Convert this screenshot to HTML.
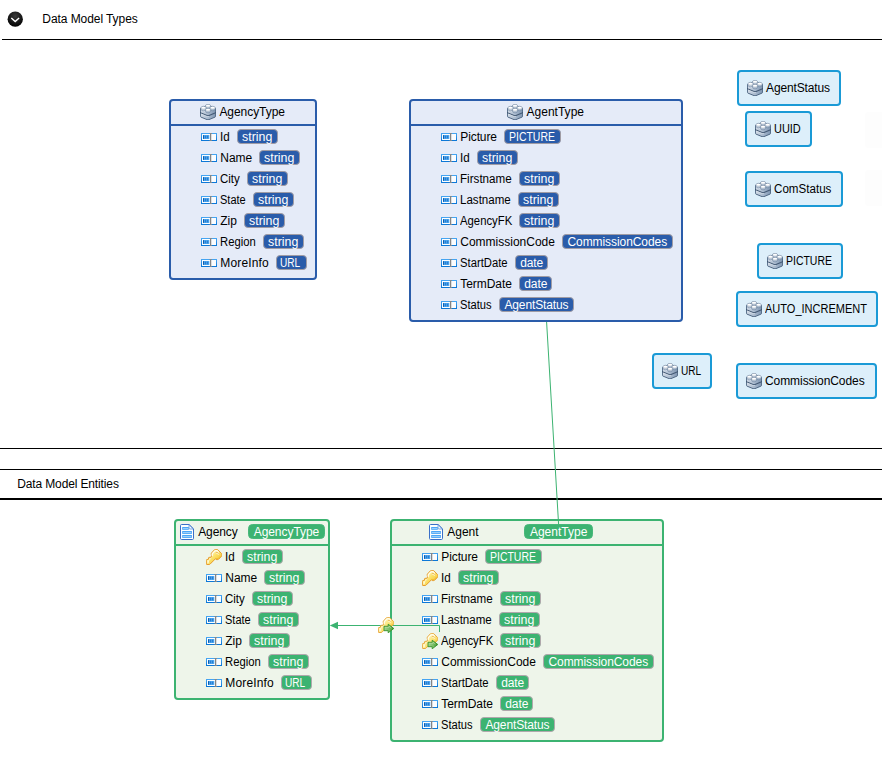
<!DOCTYPE html>
<html><head><meta charset="utf-8"><title>Data Model</title>
<style>
html,body{margin:0;padding:0;background:#fff;}
body{width:882px;height:766px;position:relative;overflow:hidden;font-family:"Liberation Sans",sans-serif;font-size:12px;color:#000;}
.t{position:absolute;white-space:nowrap;line-height:16px;height:16px;}
.hl{position:absolute;background:#000;}
.box{position:absolute;border:2px solid;border-radius:4px;}
.box.ty{background:#e5ebf8;border-color:#2a5caa;}
.box.st{background:#ddeffa;border-color:#1a9ad6;}
.box.en{background:#eef5ea;border-color:#3cb371;}
.sep{position:absolute;height:2px;}
.sep.ty{background:#2a5caa;}
.sep.en{background:#3cb371;}
.i{position:absolute;overflow:visible;}
.p{position:absolute;box-sizing:border-box;height:15px;border:1px solid;border-radius:4px;color:#fff;white-space:nowrap;text-align:center;line-height:16px;overflow:visible;}
.p>span{position:absolute;left:4px;top:-1px;line-height:16px;}
.pb{background:#2a5caa;border-color:#a09ca4;}
.ph{background:#3cb371;border-color:#48b87b;border-radius:4.5px;height:15.6px}
.pg{background:#3cb371;border-color:#b0a8ac;}
</style></head><body>
<svg width="0" height="0" style="position:absolute">
<defs>
<linearGradient id="gl" x1="0" y1="0" x2="0" y2="1"><stop offset="0" stop-color="#c3cedb"/><stop offset="1" stop-color="#97a8bb"/></linearGradient>
<linearGradient id="gr" x1="0" y1="0" x2="0" y2="1"><stop offset="0" stop-color="#a9b8c9"/><stop offset="1" stop-color="#7b8ea5"/></linearGradient>
<linearGradient id="gd" x1="0" y1="0" x2="1" y2="1"><stop offset="0" stop-color="#e3f0ff"/><stop offset="1" stop-color="#7db6f5"/></linearGradient>
<linearGradient id="gk" x1="0" y1="0" x2="1" y2="1"><stop offset="0.15" stop-color="#fffbdc"/><stop offset="0.5" stop-color="#fbe066"/><stop offset="1" stop-color="#f2bc24"/></linearGradient>
<linearGradient id="gk2" x1="0" y1="0" x2="1" y2="1"><stop offset="0.1" stop-color="#fffbdc"/><stop offset="0.55" stop-color="#fbe476"/><stop offset="1" stop-color="#f4c434"/></linearGradient>
<linearGradient id="ga" x1="0" y1="0" x2="1" y2="0"><stop offset="0" stop-color="#a3d395"/><stop offset="0.55" stop-color="#79bd64"/><stop offset="1" stop-color="#2f8f22"/></linearGradient>
<linearGradient id="gf" x1="0" y1="0" x2="0" y2="1"><stop offset="0" stop-color="#44a4f2"/><stop offset="1" stop-color="#0c78d8"/></linearGradient>
<linearGradient id="gb" x1="0" y1="0" x2="1" y2="0"><stop offset="0" stop-color="#d3dce7"/><stop offset="0.5" stop-color="#a9bace"/><stop offset="1" stop-color="#7f96b2"/></linearGradient>
<radialGradient id="gc" cx="0.5" cy="0.3" r="0.7"><stop offset="0" stop-color="#3a3a3a"/><stop offset="1" stop-color="#000"/></radialGradient>
<symbol id="brick" viewBox="0 0 16 16">
 <path d="M0.4 4.6 L8 1 L15.6 4.6 V12.3 Q15.6 12.8 15 13.1 L9 15.6 Q8 16 7 15.6 L1 13.1 Q0.4 12.8 0.4 12.3 Z" fill="url(#gb)" stroke="#4f6783" stroke-width="1" stroke-linejoin="round"/>
 <path d="M0.4 8.1 Q0.4 8.7 1 9 L7 11.5 Q8 11.9 9 11.5 L15 9 Q15.6 8.7 15.6 8.1" fill="none" stroke="#445a75" stroke-width="1.1"/>
 <path d="M1 9.9 L7 12.4 Q8 12.8 9 12.4" fill="none" stroke="#e8eef5" stroke-width="0.7" opacity="0.85"/>
 <path d="M1 5.9 L5.5 7.8" fill="none" stroke="#e8eef5" stroke-width="0.7" opacity="0.7"/>
 <path d="M5.550000000000001 1.7 v1.7 a2.5 1.4 0 0 0 5 0 v-1.7 z" fill="#b7c6d6" stroke="#6a819c" stroke-width="0.5"/><ellipse cx="8.05" cy="1.7" rx="2.5" ry="1.4" fill="#ffffff" stroke="#5f7894" stroke-width="0.55"/><path d="M5.8500000000000005 2.1 a2.3 1.2 0 0 0 4.4 0" fill="none" stroke="#ffffff" stroke-width="0.7"/>
 <path d="M1.0 3.7 v1.7 a2.5 1.4 0 0 0 5 0 v-1.7 z" fill="#c3cfdc" stroke="#6a819c" stroke-width="0.5"/><ellipse cx="3.5" cy="3.7" rx="2.5" ry="1.4" fill="#ffffff" stroke="#5f7894" stroke-width="0.55"/><path d="M1.2999999999999998 4.1000000000000005 a2.3 1.2 0 0 0 4.4 0" fill="none" stroke="#ffffff" stroke-width="0.7"/>
 <path d="M10.1 3.7 v1.7 a2.5 1.4 0 0 0 5 0 v-1.7 z" fill="#9fb3c9" stroke="#6a819c" stroke-width="0.5"/><ellipse cx="12.6" cy="3.7" rx="2.5" ry="1.4" fill="#ffffff" stroke="#5f7894" stroke-width="0.55"/><path d="M10.399999999999999 4.1000000000000005 a2.3 1.2 0 0 0 4.4 0" fill="none" stroke="#ffffff" stroke-width="0.7"/>
 <path d="M5.550000000000001 5.7 v1.7 a2.5 1.4 0 0 0 5 0 v-1.7 z" fill="#b0c0d2" stroke="#6a819c" stroke-width="0.5"/><ellipse cx="8.05" cy="5.7" rx="2.5" ry="1.4" fill="#ffffff" stroke="#5f7894" stroke-width="0.55"/><path d="M5.8500000000000005 6.1000000000000005 a2.3 1.2 0 0 0 4.4 0" fill="none" stroke="#ffffff" stroke-width="0.7"/>
</symbol>
<symbol id="fld" viewBox="0 0 16 8">
 <rect x="0.5" y="0.5" width="15" height="7" fill="#fbfdff" stroke="url(#gf)" stroke-width="1"/>
 <rect x="2" y="2" width="6.3" height="4" fill="#52acf3"/>
 <rect x="2.1" y="2.2" width="1" height="3.6" fill="#0b55a6"/><rect x="4.3" y="2.6" width="0.9" height="2.8" fill="#1a6cc0"/><rect x="6.3" y="2.6" width="0.9" height="2.8" fill="#1a6cc0"/>
 <rect x="9.2" y="0" width="1" height="8" fill="#666"/>
 <rect x="8.5" y="0" width="2.4" height="0.9" fill="#8a8a8a"/><rect x="8.5" y="7.1" width="2.4" height="0.9" fill="#8a8a8a"/>
</symbol>
<symbol id="key" viewBox="0 0 16 16">
 <path d="M5.3 4.2 L8.5 0.7 Q8.8 0.4 9.3 0.4 L11 0.3 Q11.4 0.3 11.7 0.6 L15.5 4.5 Q15.8 4.8 15.8 5.2 L15.8 6.6 Q15.8 7 15.5 7.3 L12.5 10.3 Q12.2 10.6 11.8 10.6 L10.2 10.5 L9.4 9.8 L4 15.2 Q3.8 15.5 3.4 15.5 L1 15.5 Q0.4 15.5 0.4 14.9 L0.3 11.2 Q0.3 10.7 0.8 10.6 L2.5 10.2 L2.5 8.9 Q2.5 8.5 2.9 8.4 L5 8.2 L5.6 7.1 Q5.1 5.6 5.3 4.2 Z" fill="url(#gk)" stroke="#e69c2e" stroke-width="1" stroke-linejoin="round"/>
 <path d="M6.3 5 L6.2 6.6 M6.4 4.7 L9 1.8 L11 1.6 L12.6 3.2" fill="none" stroke="#fffef2" stroke-width="1.2" stroke-linecap="round" stroke-linejoin="round" opacity="0.95"/>
 <path d="M1.3 11.5 L1.3 14.4 L2.6 14.4 L3.2 11.6 L5.4 9.2 L3.4 9.4 L3.3 11 Z" fill="#fffbe0" opacity="0.85"/>
 <path d="M10.4 3.4 L12.3 4.3" stroke="#e59f3c" stroke-width="0.8" stroke-linecap="round"/>
 <path d="M10.6 4.3 L12.6 5.2" stroke="#fffdf0" stroke-width="0.8" stroke-linecap="round"/>
 <path d="M9.6 9.4 L12 9.6 L14.8 6.8" fill="none" stroke="#f0b21c" stroke-width="0.9" opacity="0.7"/>
</symbol>
<symbol id="fkey" viewBox="0 0 16 16">
 <path d="M5.3 4.2 L8.5 0.7 Q8.8 0.4 9.3 0.4 L11 0.3 Q11.4 0.3 11.7 0.6 L15.5 4.5 Q15.8 4.8 15.8 5.2 L15.8 6.6 Q15.8 7 15.5 7.3 L12.5 10.3 Q12.2 10.6 11.8 10.6 L10.2 10.5 L9.4 9.8 L4 15.2 Q3.8 15.5 3.4 15.5 L1 15.5 Q0.4 15.5 0.4 14.9 L0.3 11.2 Q0.3 10.7 0.8 10.6 L2.5 10.2 L2.5 8.9 Q2.5 8.5 2.9 8.4 L5 8.2 L5.6 7.1 Q5.1 5.6 5.3 4.2 Z" fill="url(#gk2)" stroke="#e8a840" stroke-width="1" stroke-linejoin="round"/>
 <path d="M6.3 5 L6.2 6.6 M6.4 4.7 L9 1.8 L11 1.6 L12.6 3.2" fill="none" stroke="#fffef2" stroke-width="1.2" stroke-linecap="round" stroke-linejoin="round" opacity="0.95"/>
 <path d="M1.3 11.5 L1.3 14.4 L2.6 14.4 L3.2 11.6 L5.4 9.2 L3.4 9.4 L3.3 11 Z" fill="#fffbe0" opacity="0.85"/>
 <path d="M10.4 3.4 L12.3 4.3" stroke="#e59f3c" stroke-width="0.8" stroke-linecap="round"/>
 <path d="M10.6 4.3 L12.6 5.2" stroke="#fffdf0" stroke-width="0.8" stroke-linecap="round"/>
 <path d="M9.6 9.4 L12 9.6 L14.8 6.8" fill="none" stroke="#f0b21c" stroke-width="0.9" opacity="0.7"/>

 <path d="M6 9.3 H10.2 V7.2 L15.8 11.5 L10.2 15.8 V13.7 H6 Z" fill="url(#ga)" stroke="#35932a" stroke-width="0.9" stroke-linejoin="miter"/>
 <path d="M7 10.3 H11.1 V9.2 L13.6 11.2" fill="none" stroke="#c4e4b8" stroke-width="0.7" opacity="0.8"/>
</symbol>
<symbol id="doc" viewBox="0 0 14 16">
 <path d="M1.6 0.5 H9.2 L13.5 4.8 V14.4 Q13.5 15.5 12.4 15.5 H1.6 Q0.5 15.5 0.5 14.4 V1.6 Q0.5 0.5 1.6 0.5 Z" fill="#fdfeff" stroke="#3a6fc8" stroke-width="1" stroke-linejoin="round"/>
 <g fill="#4aa6f7"><rect x="2.2" y="3" width="6.6" height="2.8"/><rect x="2.2" y="7" width="9.7" height="2.9"/><rect x="2.2" y="11" width="9.7" height="2.9"/></g>
 <g fill="#a5d3fb"><rect x="3" y="4" width="5.2" height="0.9"/><rect x="3" y="8" width="8.2" height="0.9"/><rect x="3" y="12" width="8.2" height="0.9"/></g>
 <path d="M9 0.8 V4 Q9 5 10 5 H13.2 Z" fill="#f4f9ff" stroke="#5b8fd8" stroke-width="0.8" stroke-linejoin="round"/>
</symbol>
</defs></svg>

<svg class="i" style="left:7px;top:11px" width="17" height="17" viewBox="0 0 17 17"><circle cx="8.25" cy="8.15" r="7.65" fill="url(#gc)"/><path d="M4.3 7.1 L8.2 10.6 L12.1 7.1" fill="none" stroke="#fff" stroke-width="1.4" stroke-linecap="butt" stroke-linejoin="miter"/></svg>
<span class="t " style="left:42.3px;top:11.0px;letter-spacing:-0.069px">Data Model Types</span>
<div class="hl" style="left:2px;top:39px;width:880px;height:1px"></div>
<div style="position:absolute;left:865px;top:112px;width:20px;height:36px;background:#fdfdfd;border-radius:3px"></div>
<div style="position:absolute;left:865px;top:170px;width:20px;height:36px;background:#fdfdfd;border-radius:3px"></div>

<div class="hl" style="left:0;top:448px;width:882px;height:1px"></div>
<div class="hl" style="left:0;top:469px;width:882px;height:1px"></div>
<span class="t " style="left:17.2px;top:476.0px;letter-spacing:-0.130px">Data Model Entities</span>
<div class="hl" style="left:0;top:498px;width:882px;height:2px"></div>

<div class="box ty" style="left:169px;top:99px;width:144px;height:177px"></div>
<div class="sep ty" style="left:170px;top:124px;width:146px"></div>
<svg class="i" style="left:200.0px;top:104.0px" width="16" height="16"><use href="#brick"/></svg>
<span class="t " style="left:219.4px;top:104.0px;letter-spacing:-0.055px">AgencyType</span>
<svg class="i" style="left:201.0px;top:133.0px" width="16" height="8"><use href="#fld"/></svg>
<span class="t " style="left:220.3px;top:129.0px;transform:scaleX(0.9685);transform-origin:0 0">Id</span>
<span class="p pb" style="left:237.4px;top:129.0px;width:40.5px"><span style="left:3.80px;transform:scaleX(1.0326);transform-origin:0 0">string</span></span>
<svg class="i" style="left:201.0px;top:154.0px" width="16" height="8"><use href="#fld"/></svg>
<span class="t " style="left:220.3px;top:150.0px;letter-spacing:-0.079px">Name</span>
<span class="p pb" style="left:259.2px;top:150.0px;width:40.5px"><span style="left:3.80px;transform:scaleX(1.0326);transform-origin:0 0">string</span></span>
<svg class="i" style="left:201.0px;top:175.0px" width="16" height="8"><use href="#fld"/></svg>
<span class="t " style="left:220.3px;top:171.0px;transform:scaleX(0.9578);transform-origin:0 0">City</span>
<span class="p pb" style="left:247.1px;top:171.0px;width:40.5px"><span style="left:3.80px;transform:scaleX(1.0326);transform-origin:0 0">string</span></span>
<svg class="i" style="left:201.0px;top:196.0px" width="16" height="8"><use href="#fld"/></svg>
<span class="t " style="left:220.3px;top:192.0px;transform:scaleX(0.9168);transform-origin:0 0">State</span>
<span class="p pb" style="left:253.2px;top:192.0px;width:40.5px"><span style="left:3.80px;transform:scaleX(1.0326);transform-origin:0 0">string</span></span>
<svg class="i" style="left:201.0px;top:217.0px" width="16" height="8"><use href="#fld"/></svg>
<span class="t " style="left:220.3px;top:213.0px;letter-spacing:-0.057px">Zip</span>
<span class="p pb" style="left:244.0px;top:213.0px;width:40.5px"><span style="left:3.80px;transform:scaleX(1.0326);transform-origin:0 0">string</span></span>
<svg class="i" style="left:201.0px;top:238.0px" width="16" height="8"><use href="#fld"/></svg>
<span class="t " style="left:220.3px;top:234.0px;transform:scaleX(0.9387);transform-origin:0 0">Region</span>
<span class="p pb" style="left:263.0px;top:234.0px;width:40.5px"><span style="left:3.80px;transform:scaleX(1.0326);transform-origin:0 0">string</span></span>
<svg class="i" style="left:201.0px;top:259.0px" width="16" height="8"><use href="#fld"/></svg>
<span class="t " style="left:220.3px;top:255.0px;letter-spacing:0.155px">MoreInfo</span>
<span class="p pb" style="left:276.2px;top:255.0px;width:30.6px"><span style="left:3.30px;transform:scaleX(0.8411);transform-origin:0 0">URL</span></span>
<div class="box ty" style="left:409px;top:99px;width:270px;height:219px"></div>
<div class="sep ty" style="left:410px;top:124px;width:272px"></div>
<svg class="i" style="left:507.0px;top:104.0px" width="16" height="16"><use href="#brick"/></svg>
<span class="t " style="left:526.5px;top:104.0px;letter-spacing:0.014px">AgentType</span>
<svg class="i" style="left:441.0px;top:133.0px" width="16" height="8"><use href="#fld"/></svg>
<span class="t " style="left:460.3px;top:129.0px;letter-spacing:-0.108px">Picture</span>
<span class="p pb" style="left:504.0px;top:129.0px;width:57.0px"><span style="left:3.50px;transform:scaleX(0.8733);transform-origin:0 0">PICTURE</span></span>
<svg class="i" style="left:441.0px;top:154.0px" width="16" height="8"><use href="#fld"/></svg>
<span class="t " style="left:460.3px;top:150.0px;transform:scaleX(0.9685);transform-origin:0 0">Id</span>
<span class="p pb" style="left:477.4px;top:150.0px;width:40.5px"><span style="left:3.80px;transform:scaleX(1.0326);transform-origin:0 0">string</span></span>
<svg class="i" style="left:441.0px;top:175.0px" width="16" height="8"><use href="#fld"/></svg>
<span class="t " style="left:460.3px;top:171.0px;transform:scaleX(0.9692);transform-origin:0 0">Firstname</span>
<span class="p pb" style="left:519.2px;top:171.0px;width:40.5px"><span style="left:3.80px;transform:scaleX(1.0326);transform-origin:0 0">string</span></span>
<svg class="i" style="left:441.0px;top:196.0px" width="16" height="8"><use href="#fld"/></svg>
<span class="t " style="left:460.3px;top:192.0px;transform:scaleX(0.9639);transform-origin:0 0">Lastname</span>
<span class="p pb" style="left:518.3px;top:192.0px;width:40.5px"><span style="left:3.80px;transform:scaleX(1.0326);transform-origin:0 0">string</span></span>
<svg class="i" style="left:441.0px;top:217.0px" width="16" height="8"><use href="#fld"/></svg>
<span class="t " style="left:460.3px;top:213.0px;transform:scaleX(0.9429);transform-origin:0 0">AgencyFK</span>
<span class="p pb" style="left:519.2px;top:213.0px;width:40.5px"><span style="left:3.80px;transform:scaleX(1.0326);transform-origin:0 0">string</span></span>
<svg class="i" style="left:441.0px;top:238.0px" width="16" height="8"><use href="#fld"/></svg>
<span class="t " style="left:460.3px;top:234.0px;letter-spacing:-0.007px">CommissionCode</span>
<span class="p pb" style="left:561.9px;top:234.0px;width:110.8px"><span style="left:4.60px;letter-spacing:-0.074px">CommissionCodes</span></span>
<svg class="i" style="left:441.0px;top:259.0px" width="16" height="8"><use href="#fld"/></svg>
<span class="t " style="left:460.3px;top:255.0px;transform:scaleX(0.9388);transform-origin:0 0">StartDate</span>
<span class="p pb" style="left:515.0px;top:255.0px;width:33.4px"><span style="left:4.20px;letter-spacing:-0.090px">date</span></span>
<svg class="i" style="left:441.0px;top:280.0px" width="16" height="8"><use href="#fld"/></svg>
<span class="t " style="left:460.3px;top:276.0px;letter-spacing:-0.064px">TermDate</span>
<span class="p pb" style="left:519.1px;top:276.0px;width:33.4px"><span style="left:4.20px;letter-spacing:-0.090px">date</span></span>
<svg class="i" style="left:441.0px;top:301.0px" width="16" height="8"><use href="#fld"/></svg>
<span class="t " style="left:460.3px;top:297.0px;transform:scaleX(0.9286);transform-origin:0 0">Status</span>
<span class="p pb" style="left:499.3px;top:297.0px;width:74.3px"><span style="left:4.15px;letter-spacing:-0.126px">AgentStatus</span></span>
<div class="box st" style="left:737px;top:70px;width:100px;height:32px"></div>
<svg class="i" style="left:747.0px;top:80.0px" width="16" height="16"><use href="#brick"/></svg>
<span class="t " style="left:766.0px;top:80.0px;letter-spacing:-0.126px">AgentStatus</span>
<div class="box st" style="left:745px;top:111px;width:63px;height:32px"></div>
<svg class="i" style="left:755.0px;top:121.0px" width="16" height="16"><use href="#brick"/></svg>
<span class="t " style="left:774.0px;top:121.0px;transform:scaleX(0.9133);transform-origin:0 0">UUID</span>
<div class="box st" style="left:745px;top:171px;width:94px;height:32px"></div>
<svg class="i" style="left:755.0px;top:181.0px" width="16" height="16"><use href="#brick"/></svg>
<span class="t " style="left:774.0px;top:181.0px;transform:scaleX(0.9670);transform-origin:0 0">ComStatus</span>
<div class="box st" style="left:757px;top:243px;width:82px;height:32px"></div>
<svg class="i" style="left:767.0px;top:253.0px" width="16" height="16"><use href="#brick"/></svg>
<span class="t " style="left:786.0px;top:253.0px;transform:scaleX(0.8733);transform-origin:0 0">PICTURE</span>
<div class="box st" style="left:736px;top:291px;width:138px;height:32px"></div>
<svg class="i" style="left:746.0px;top:301.0px" width="16" height="16"><use href="#brick"/></svg>
<span class="t " style="left:765.0px;top:301.0px;transform:scaleX(0.9179);transform-origin:0 0">AUTO_INCREMENT</span>
<div class="box st" style="left:652px;top:353px;width:56px;height:32px"></div>
<svg class="i" style="left:662.0px;top:363.0px" width="16" height="16"><use href="#brick"/></svg>
<span class="t " style="left:681.0px;top:363.0px;transform:scaleX(0.8411);transform-origin:0 0">URL</span>
<div class="box st" style="left:736px;top:363px;width:137px;height:32px"></div>
<svg class="i" style="left:746.0px;top:373.0px" width="16" height="16"><use href="#brick"/></svg>
<span class="t " style="left:765.0px;top:373.0px;letter-spacing:-0.074px">CommissionCodes</span>
<div class="box en" style="left:174px;top:519px;width:152px;height:177px"></div>
<div class="sep en" style="left:175px;top:544px;width:154px"></div>
<svg class="i" style="left:180.0px;top:524.0px" width="14" height="16"><use href="#doc"/></svg>
<span class="t " style="left:198.2px;top:524.0px;letter-spacing:-0.089px">Agency</span>
<span class="p ph" style="left:247.8px;top:523.7px;width:77.1px"><span style="left:4.9px;top:-0.7px;letter-spacing:-0.055px">AgencyType</span></span>
<svg class="i" style="left:206.0px;top:549.0px" width="16" height="16"><use href="#key"/></svg>
<span class="t " style="left:225.3px;top:549.0px;transform:scaleX(0.9685);transform-origin:0 0">Id</span>
<span class="p pg" style="left:242.4px;top:549.0px;width:40.5px"><span style="left:3.80px;transform:scaleX(1.0326);transform-origin:0 0">string</span></span>
<svg class="i" style="left:206.0px;top:574.0px" width="16" height="8"><use href="#fld"/></svg>
<span class="t " style="left:225.3px;top:570.0px;letter-spacing:-0.079px">Name</span>
<span class="p pg" style="left:264.2px;top:570.0px;width:40.5px"><span style="left:3.80px;transform:scaleX(1.0326);transform-origin:0 0">string</span></span>
<svg class="i" style="left:206.0px;top:595.0px" width="16" height="8"><use href="#fld"/></svg>
<span class="t " style="left:225.3px;top:591.0px;transform:scaleX(0.9578);transform-origin:0 0">City</span>
<span class="p pg" style="left:252.1px;top:591.0px;width:40.5px"><span style="left:3.80px;transform:scaleX(1.0326);transform-origin:0 0">string</span></span>
<svg class="i" style="left:206.0px;top:616.0px" width="16" height="8"><use href="#fld"/></svg>
<span class="t " style="left:225.3px;top:612.0px;transform:scaleX(0.9168);transform-origin:0 0">State</span>
<span class="p pg" style="left:258.2px;top:612.0px;width:40.5px"><span style="left:3.80px;transform:scaleX(1.0326);transform-origin:0 0">string</span></span>
<svg class="i" style="left:206.0px;top:637.0px" width="16" height="8"><use href="#fld"/></svg>
<span class="t " style="left:225.3px;top:633.0px;letter-spacing:-0.057px">Zip</span>
<span class="p pg" style="left:249.0px;top:633.0px;width:40.5px"><span style="left:3.80px;transform:scaleX(1.0326);transform-origin:0 0">string</span></span>
<svg class="i" style="left:206.0px;top:658.0px" width="16" height="8"><use href="#fld"/></svg>
<span class="t " style="left:225.3px;top:654.0px;transform:scaleX(0.9387);transform-origin:0 0">Region</span>
<span class="p pg" style="left:268.0px;top:654.0px;width:40.5px"><span style="left:3.80px;transform:scaleX(1.0326);transform-origin:0 0">string</span></span>
<svg class="i" style="left:206.0px;top:679.0px" width="16" height="8"><use href="#fld"/></svg>
<span class="t " style="left:225.3px;top:675.0px;letter-spacing:0.155px">MoreInfo</span>
<span class="p pg" style="left:281.2px;top:675.0px;width:30.6px"><span style="left:3.30px;transform:scaleX(0.8411);transform-origin:0 0">URL</span></span>
<div class="box en" style="left:390px;top:519px;width:270px;height:219px"></div>
<div class="sep en" style="left:391px;top:544px;width:272px"></div>
<svg class="i" style="left:429.0px;top:524.0px" width="14" height="16"><use href="#doc"/></svg>
<span class="t " style="left:447.3px;top:524.0px;letter-spacing:-0.012px">Agent</span>
<span class="p ph" style="left:524.0px;top:523.7px;width:69.1px"><span style="left:4.9px;top:-0.7px;letter-spacing:0.014px">AgentType</span></span>
<svg class="i" style="left:422.0px;top:553.0px" width="16" height="8"><use href="#fld"/></svg>
<span class="t " style="left:441.3px;top:549.0px;letter-spacing:-0.108px">Picture</span>
<span class="p pg" style="left:485.0px;top:549.0px;width:57.0px"><span style="left:3.50px;transform:scaleX(0.8733);transform-origin:0 0">PICTURE</span></span>
<svg class="i" style="left:422.0px;top:570.0px" width="16" height="16"><use href="#key"/></svg>
<span class="t " style="left:441.3px;top:570.0px;transform:scaleX(0.9685);transform-origin:0 0">Id</span>
<span class="p pg" style="left:458.4px;top:570.0px;width:40.5px"><span style="left:3.80px;transform:scaleX(1.0326);transform-origin:0 0">string</span></span>
<svg class="i" style="left:422.0px;top:595.0px" width="16" height="8"><use href="#fld"/></svg>
<span class="t " style="left:441.3px;top:591.0px;transform:scaleX(0.9692);transform-origin:0 0">Firstname</span>
<span class="p pg" style="left:500.2px;top:591.0px;width:40.5px"><span style="left:3.80px;transform:scaleX(1.0326);transform-origin:0 0">string</span></span>
<svg class="i" style="left:422.0px;top:616.0px" width="16" height="8"><use href="#fld"/></svg>
<span class="t " style="left:441.3px;top:612.0px;transform:scaleX(0.9639);transform-origin:0 0">Lastname</span>
<span class="p pg" style="left:499.3px;top:612.0px;width:40.5px"><span style="left:3.80px;transform:scaleX(1.0326);transform-origin:0 0">string</span></span>
<svg class="i" style="left:422.0px;top:633.0px" width="16" height="16"><use href="#fkey"/></svg>
<span class="t " style="left:441.3px;top:633.0px;transform:scaleX(0.9429);transform-origin:0 0">AgencyFK</span>
<span class="p pg" style="left:500.2px;top:633.0px;width:40.5px"><span style="left:3.80px;transform:scaleX(1.0326);transform-origin:0 0">string</span></span>
<svg class="i" style="left:422.0px;top:658.0px" width="16" height="8"><use href="#fld"/></svg>
<span class="t " style="left:441.3px;top:654.0px;letter-spacing:-0.007px">CommissionCode</span>
<span class="p pg" style="left:542.9px;top:654.0px;width:110.8px"><span style="left:4.60px;letter-spacing:-0.074px">CommissionCodes</span></span>
<svg class="i" style="left:422.0px;top:679.0px" width="16" height="8"><use href="#fld"/></svg>
<span class="t " style="left:441.3px;top:675.0px;transform:scaleX(0.9388);transform-origin:0 0">StartDate</span>
<span class="p pg" style="left:496.0px;top:675.0px;width:33.4px"><span style="left:4.20px;letter-spacing:-0.090px">date</span></span>
<svg class="i" style="left:422.0px;top:700.0px" width="16" height="8"><use href="#fld"/></svg>
<span class="t " style="left:441.3px;top:696.0px;letter-spacing:-0.064px">TermDate</span>
<span class="p pg" style="left:500.1px;top:696.0px;width:33.4px"><span style="left:4.20px;letter-spacing:-0.090px">date</span></span>
<svg class="i" style="left:422.0px;top:721.0px" width="16" height="8"><use href="#fld"/></svg>
<span class="t " style="left:441.3px;top:717.0px;transform:scaleX(0.9286);transform-origin:0 0">Status</span>
<span class="p pg" style="left:480.3px;top:717.0px;width:74.3px"><span style="left:4.15px;letter-spacing:-0.126px">AgentStatus</span></span>

<svg class="i" style="left:0;top:0" width="882" height="766">
 <line x1="546.6" y1="322" x2="558.6" y2="524.5" stroke="#3cb371" stroke-width="1"/>
 <path d="M337.5 625.5 H439.5 V632" fill="none" stroke="#3cb371" stroke-width="1"/>
 <path d="M329.8 625.5 L338 621.8 V629.2 Z" fill="#3cb371"/>
</svg>
<svg class="i" style="left:378.0px;top:617.0px" width="16" height="16"><use href="#fkey"/></svg>
</body></html>
